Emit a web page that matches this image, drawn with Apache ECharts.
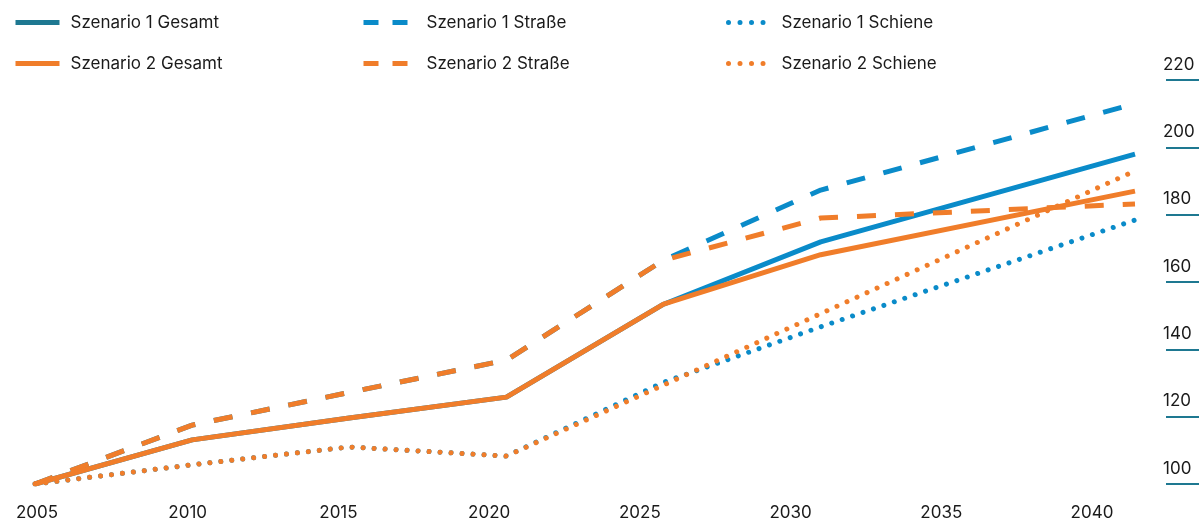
<!DOCTYPE html>
<html>
<head>
<meta charset="utf-8">
<script src="https://cdn.jsdelivr.net/npm/echarts@6/dist/echarts.min.js"></script>
<style>
  html, body { margin: 0; padding: 0; background: #fff; }
  #chart { width: 1199px; height: 522px; }
</style>
</head>
<body>
<div id="chart"></div>
<script>
// Stützjahre der Reihen und Achsbeschriftungen
const years = [2005, 2010, 2015, 2020, 2025, 2030, 2040]
const xLabels = ['2005', '2010', '2015', '2020', '2025', '2030', '2035', '2040']

// Index 2005 = 100
const s1Gesamt = [100, 113.1, 119.6, 125.8, 153.4, 171.9, 198.0]
const s2Gesamt = [100, 113.1, 119.6, 125.8, 153.4, 168.1, 187.0]
const s1Strasse = [100, 117.5, 127.2, 136.8, 166.5, 187.3, 213.0]
const s2Strasse = [100, 117.5, 127.2, 136.8, 166.5, 179.0, 183.2]
const s1Schiene = [100, 105.7, 111.0, 108.3, 130.2, 146.7, 178.4]
const s2Schiene = [100, 105.7, 111.0, 108.3, 129.4, 150.6, 193.0]

const blue = '#0a8bc9'
const orange = '#f07d2a'
const teal = '#1e7891'
const font = 'Inter, "Liberation Sans", sans-serif'

function pairs(vals) {
  return years.map((y, i) => [y, vals[i]])
}

function line(name, vals, color, kind) {
  const ls = { color: color, width: 5 }
  if (kind === 'dash') {
    ls.type = [19, 19]
  } else if (kind === 'dot') {
    ls.type = [0.01, 11]
    ls.cap = 'round'
  }
  return {
    name: name,
    type: 'line',
    xAxisIndex: 0,
    yAxisIndex: 0,
    data: pairs(vals),
    symbol: 'none',
    color: color,
    lineStyle: ls,
    emphasis: { disabled: true }
  }
}

function legendCol(left, items, gap) {
  return {
    orient: 'vertical',
    left: left,
    top: 14,
    padding: 0,
    itemWidth: 44,
    itemHeight: 20,
    itemGap: 24,
    selectedMode: false,
    itemStyle: { opacity: 0 },
    lineStyle: { width: 5 },
    textStyle: {
      fontFamily: font,
      fontSize: 17,
      color: '#1a1a1a',
      padding: [0, 0, 0, gap]
    },
    data: items
  }
}

const dashIcon = { width: 5, type: [15, 14] }
const dotIcon = { width: 5, type: [0.01, 11.5], cap: 'round' }

const chart = echarts.init(document.getElementById('chart'))
chart.setOption({
  animation: false,
  legend: [
    legendCol(13, [
      { name: 'Szenario 1 Gesamt', lineStyle: { width: 5, color: teal } },
      { name: 'Szenario 2 Gesamt', lineStyle: { width: 5 } }
    ], 6),
    legendCol(361, [
      { name: 'Szenario 1 Straße', lineStyle: dashIcon },
      { name: 'Szenario 2 Straße', lineStyle: dashIcon }
    ], 14),
    legendCol(726, [
      { name: 'Szenario 1 Schiene', lineStyle: dotIcon },
      { name: 'Szenario 2 Schiene', lineStyle: dotIcon }
    ], 4)
  ],
  grid: [
    { left: 35, right: 64, top: 80, bottom: 38 },
    { left: 37, right: 107, top: 80, bottom: 38 }
  ],
  xAxis: [
    { type: 'value', gridIndex: 0, min: 2005, max: 2040, show: false },
    {
      type: 'category',
      gridIndex: 1,
      data: xLabels,
      boundaryGap: false,
      axisLine: { show: false },
      axisTick: { show: false },
      axisLabel: {
        margin: 20,
        fontFamily: font,
        fontSize: 17,
        color: '#1a1a1a'
      }
    }
  ],
  yAxis: [
    {
      type: 'value',
      gridIndex: 0,
      position: 'right',
      offset: 31,
      min: 100,
      max: 220,
      interval: 20,
      axisLine: { show: false },
      axisTick: { show: true, inside: false, length: 33, lineStyle: { color: teal, width: 2 } },
      splitLine: { show: false },
      axisLabel: {
        align: 'left',
        verticalAlign: 'bottom',
        margin: -3,
        padding: [0, 0, 7, 0],
        fontFamily: font,
        fontSize: 17,
        color: '#1a1a1a'
      }
    },
    { type: 'value', gridIndex: 1, show: false }
  ],
  series: [
    line('Szenario 1 Schiene', s1Schiene, blue, 'dot'),
    line('Szenario 1 Straße', s1Strasse, blue, 'dash'),
    line('Szenario 1 Gesamt', s1Gesamt, blue, 'solid'),
    line('Szenario 2 Schiene', s2Schiene, orange, 'dot'),
    line('Szenario 2 Straße', s2Strasse, orange, 'dash'),
    line('Szenario 2 Gesamt', s2Gesamt, orange, 'solid')
  ]
})
</script>
</body>
</html>
